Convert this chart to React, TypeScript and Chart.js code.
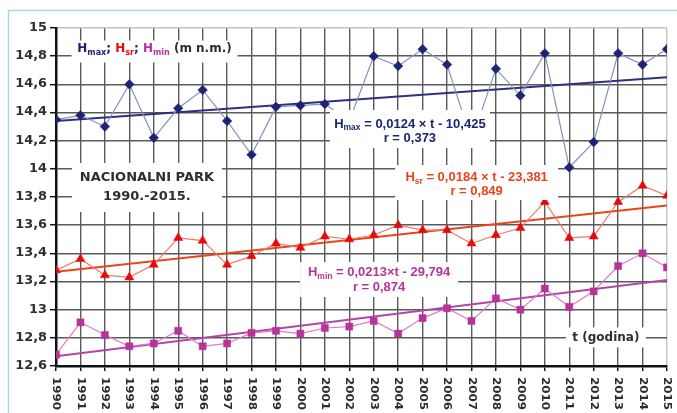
import { useEffect, useRef } from 'react';
import { Chart, registerables } from 'chart.js';

Chart.register(...registerables);

// ---------- data ----------
const years = [1990, 1991, 1992, 1993, 1994, 1995, 1996, 1997, 1998, 1999, 2000, 2001, 2002,
  2003, 2004, 2005, 2006, 2007, 2008, 2009, 2010, 2011, 2012, 2013, 2014, 2015];

const hMax = [14.35, 14.38, 14.30, 14.60, 14.22, 14.43, 14.56, 14.34, 14.10, 14.44, 14.45, 14.46, 14.34,
  14.80, 14.73, 14.85, 14.74, 14.20, 14.71, 14.52, 14.82, 14.01, 14.19, 14.82, 14.74, 14.85];

const hSr = [13.28, 13.36, 13.245, 13.23, 13.32, 13.51, 13.49, 13.32, 13.38, 13.47, 13.44, 13.52, 13.50,
  13.53, 13.60, 13.565, 13.565, 13.47, 13.53, 13.58, 13.765, 13.51, 13.52, 13.765, 13.88, 13.81];

const hMin = [12.68, 12.91, 12.82, 12.74, 12.76, 12.85, 12.74, 12.76, 12.835, 12.85, 12.83, 12.87, 12.88,
  12.92, 12.83, 12.94, 13.01, 12.92, 13.08, 13.00, 13.15, 13.02, 13.13, 13.31, 13.40, 13.30];

const trendYears = [1990, 2015];
const trendMax = [14.34, 14.65];
const trendSr = [13.27, 13.74];
const trendMin = [12.67, 13.21];

const yMin = 12.6;
const yMax = 15;
const yStep = 0.2;

// ---------- colours ----------
const NAVY = '#1c2573';
const NAVY_LINE = '#8a8fc2';
const NAVY_TREND = '#2c3180';
const RED = '#e60a0a';
const RED_LINE = '#f07a6a';
const RED_TREND = '#e8441e';
const RED_TEXT = '#e8441e';
const MAG = '#b8329c';
const MAG_LINE = '#dc7ccb';
const MAG_TREND = '#b445a8';
const GREY_TEXT = '#2e2e2e';

// ---------- annotations ----------
type Seg = [string, string, boolean?];
interface Note {
  x: number; y: number; w: number; h: number; dy: number; lh: number;
  font: string; subFont: string; lines: Seg[][];
}

const LS = '"Liberation Sans", Arial, sans-serif';
const DV = '"DejaVu Sans", sans-serif';

const notes: Note[] = [
  {
    x: 1994.03, y: 14.833, w: 166, h: 22, dy: -3, lh: 0,
    font: `bold 12px ${DV}`, subFont: `bold 8px ${DV}`,
    lines: [[
      ['H', NAVY], ['max', NAVY, true], ['; ', NAVY],
      ['H', RED], ['sr', RED, true], ['; ', NAVY],
      ['H', MAG], ['min', MAG, true], [' (m n.m.)', GREY_TEXT],
    ]],
  },
  {
    x: 1993.72, y: 13.868, w: 150, h: 49, dy: 0, lh: 19,
    font: `bold 13px ${DV}`, subFont: `bold 9px ${DV}`,
    lines: [[['NACIONALNI PARK', GREY_TEXT]], [['1990.-2015.', GREY_TEXT]]],
  },
  {
    x: 2004.48, y: 14.283, w: 160, h: 38, dy: 2, lh: 14,
    font: `bold 13px ${LS}`, subFont: `bold 8.5px ${LS}`,
    lines: [
      [['H', NAVY], ['max', NAVY, true], [' = 0,0124 \u00d7 t - 10,425', NAVY]],
      [['r = 0,373', NAVY]],
    ],
  },
  {
    x: 2007.21, y: 13.903, w: 163, h: 35, dy: 2, lh: 14.5,
    font: `bold 13px ${LS}`, subFont: `bold 8.5px ${LS}`,
    lines: [
      [['H', RED_TEXT], ['sr', RED_TEXT, true], [' = 0,0184 \u00d7 t - 23,381', RED_TEXT]],
      [['r = 0,849', RED_TEXT]],
    ],
  },
  {
    x: 2003.22, y: 13.214, w: 158, h: 35, dy: 0.5, lh: 15,
    font: `bold 13px ${LS}`, subFont: `bold 8.5px ${LS}`,
    lines: [
      [['H', MAG], ['min', MAG, true], [' = 0,0213\u00d7t - 29,794', MAG]],
      [['r = 0,874', MAG]],
    ],
  },
  {
    x: 2012.5, y: 12.803, w: 80, h: 20, dy: 0, lh: 0,
    font: `bold 12px ${DV}`, subFont: `bold 8px ${DV}`,
    lines: [[['t (godina)', GREY_TEXT]]],
  },
];

function drawRich(ctx: CanvasRenderingContext2D, segs: Seg[], cx: number, cy: number, font: string, subFont: string) {
  let total = 0;
  const widths: number[] = [];
  for (const s of segs) {
    ctx.font = s[2] ? subFont : font;
    const w = ctx.measureText(s[0]).width;
    widths.push(w);
    total += w;
  }
  let x = cx - total / 2;
  ctx.textAlign = 'left';
  ctx.textBaseline = 'middle';
  segs.forEach((s, i) => {
    ctx.font = s[2] ? subFont : font;
    ctx.fillStyle = s[1];
    ctx.fillText(s[0], x, s[2] ? cy + 4 : cy);
    x += widths[i];
  });
}

const decor = {
  id: 'decor',
  beforeDraw(chart: any) {
    const ctx = chart.ctx as CanvasRenderingContext2D;
    ctx.save();
    ctx.fillStyle = '#ffffff';
    ctx.fillRect(0, 0, chart.width, chart.height);
    ctx.strokeStyle = '#a3d9e8';
    ctx.lineWidth = 1.5;
    ctx.beginPath();
    ctx.moveTo(8.5, chart.height + 2);
    ctx.lineTo(8.5, 10.5);
    ctx.lineTo(chart.width + 2, 10.5);
    ctx.stroke();
    ctx.restore();
  },
  afterDatasetsDraw(chart: any) {
    const ctx = chart.ctx as CanvasRenderingContext2D;
    const xs = chart.scales.x;
    const ys = chart.scales.y;
    ctx.save();
    // annotation boxes
    for (const n of notes) {
      const cx = xs.getPixelForValue(n.x);
      const cy = ys.getPixelForValue(n.y);
      ctx.fillStyle = '#ffffff';
      ctx.fillRect(cx - n.w / 2, cy - n.h / 2, n.w, n.h);
      const count = n.lines.length;
      n.lines.forEach((line, i) => {
        const ly = cy + n.dy + (i - (count - 1) / 2) * n.lh;
        drawRich(ctx, line, cx, ly, n.font, n.subFont);
      });
    }
    // y tick labels
    ctx.fillStyle = GREY_TEXT;
    ctx.font = `bold 11.5px ${DV}`;
    ctx.textAlign = 'right';
    ctx.textBaseline = 'middle';
    for (const t of ys.ticks) {
      const v = Math.round(t.value * 10) / 10;
      const label = String(v).replace('.', ',');
      const py = ys.getPixelForValue(t.value);
      ctx.save();
      ctx.translate(chart.chartArea.left - 9, py);
      ctx.scale(1.12, 1);
      ctx.fillText(label, 0, 0);
      ctx.restore();
    }
    // x tick labels, rotated clockwise
    ctx.font = `bold 11px ${DV}`;
    ctx.textAlign = 'left';
    ctx.textBaseline = 'middle';
    for (const t of xs.ticks) {
      const px = xs.getPixelForValue(t.value);
      ctx.save();
      ctx.translate(px, chart.chartArea.bottom + 11);
      ctx.rotate(Math.PI / 2);
      ctx.scale(1.08, 1);
      ctx.fillText(String(Math.round(t.value)), 0, 0);
      ctx.restore();
    }
    ctx.restore();
  },
};

export default function App() {
  const ref = useRef<HTMLCanvasElement | null>(null);

  useEffect(() => {
    if (!ref.current) return;
    const series = (ys: number[]) => years.map((x, i) => ({ x, y: ys[i] }));
    const trend = (ys: number[]) => trendYears.map((x, i) => ({ x, y: ys[i] }));

    const chart = new Chart(ref.current, {
      type: 'line',
      data: {
        datasets: [
          {
            data: series(hMax), borderColor: NAVY_LINE, borderWidth: 1.2,
            pointStyle: 'rectRot', pointRadius: 4.8, pointBackgroundColor: NAVY, pointBorderColor: NAVY,
            pointBorderWidth: 0.5, tension: 0, fill: false,
          },
          {
            data: series(hSr), borderColor: RED_LINE, borderWidth: 1.2,
            pointStyle: 'triangle', pointRadius: 5.2, pointBackgroundColor: RED, pointBorderColor: RED,
            pointBorderWidth: 0.5, tension: 0, fill: false,
          },
          {
            data: series(hMin), borderColor: MAG_LINE, borderWidth: 1.2,
            pointStyle: 'rect', pointRadius: 5, pointBackgroundColor: MAG, pointBorderColor: MAG,
            pointBorderWidth: 0.5, tension: 0, fill: false,
          },
          { data: trend(trendMax), borderColor: NAVY_TREND, borderWidth: 2, pointRadius: 0, fill: false },
          { data: trend(trendSr), borderColor: RED_TREND, borderWidth: 2, pointRadius: 0, fill: false },
          { data: trend(trendMin), borderColor: MAG_TREND, borderWidth: 2, pointRadius: 0, fill: false },
        ],
      },
      options: {
        animation: false,
        responsive: false,
        devicePixelRatio: 1,
        events: [],
        layout: { padding: { left: 8, right: 10, top: 28, bottom: 0 } },
        plugins: { legend: { display: false }, tooltip: { enabled: false }, title: { display: false } },
        scales: {
          x: {
            type: 'linear', min: 1990, max: 2015,
            ticks: { display: false, stepSize: 1 },
            grid: {
              color: (c: any) => (c.tick && c.tick.value === 2015 ? '#c4c4c4' : '#5a5a5a'),
              lineWidth: 1.4, drawTicks: true, tickLength: 5, tickColor: '#111', tickWidth: 1.5,
            },
            border: { display: true, color: '#111', width: 2.5 },
            afterFit: (s: any) => { s.height = 47; },
          },
          y: {
            type: 'linear', min: yMin, max: yMax,
            ticks: { display: false, stepSize: yStep },
            grid: {
              color: (c: any) => (c.tick && Math.abs(c.tick.value - yMax) < 1e-6 ? '#c4c4c4' : '#5a5a5a'),
              lineWidth: 1.4, drawTicks: true, tickLength: 6, tickColor: '#111', tickWidth: 1.5,
            },
            border: { display: true, color: '#111', width: 2.5 },
            afterFit: (s: any) => { s.width = 48; },
          },
        },
      },
      plugins: [decor],
    } as any);

    return () => chart.destroy();
  }, []);

  return (
    <div style={{ position: 'fixed', left: 0, top: 0, width: 677, height: 413, background: '#fff' }}>
      <canvas ref={ref} width={677} height={413} style={{ display: 'block', width: 677, height: 413 }} />
    </div>
  );
}
